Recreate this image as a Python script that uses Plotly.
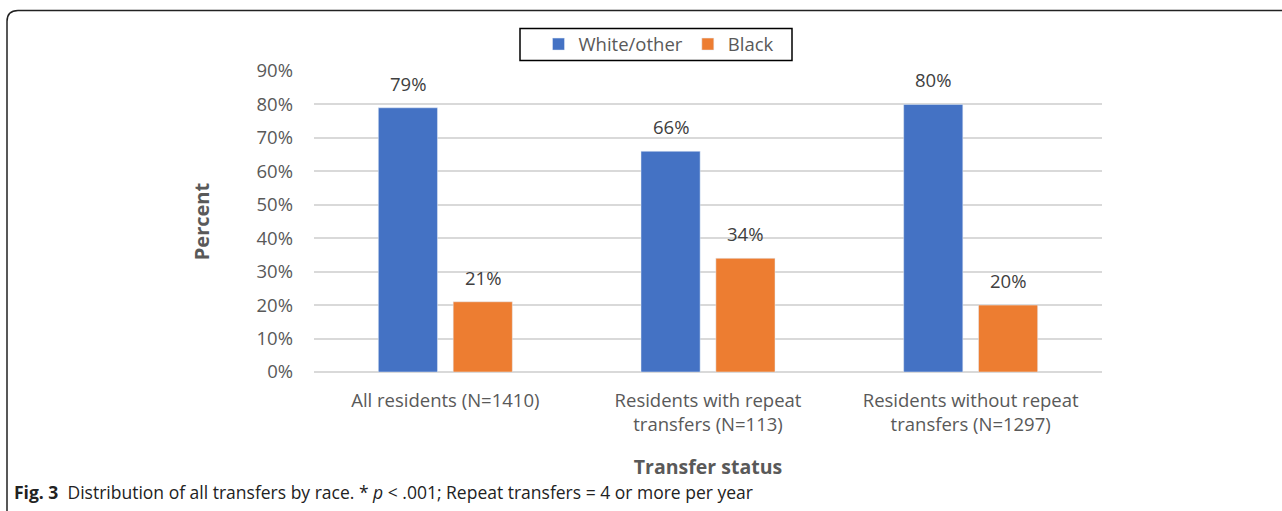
import plotly.graph_objects as go

categories = ["All residents (N=1410)", "Residents with repeat<br>transfers (N=113)", "Residents without repeat<br>transfers (N=1297)"]
white_other = [79, 66, 80]
black = [21, 34, 20]
tick_vals = [0, 10, 20, 30, 40, 50, 60, 70, 80, 90]
tick_text = [f"{v}%" for v in tick_vals]

W, H = 1282, 511
L, R, T, B = 314, 1102, 70.5, 372
BARGAP = 0.43
GROUPGAP = 0.21

def px(x):
    return (x - L) / (R - L)

def py(y):
    return (B - y) / (B - T)

FONT = "Open Sans"
GRAY = "#595959"
FS = 18.5

fig = go.Figure()
fig.add_trace(go.Bar(name="White/other", x=categories, y=white_other, marker_color="#4472C4"))
fig.add_trace(go.Bar(name="Black", x=categories, y=black, marker_color="#ED7D31"))

# data labels above bars
cat_w = (R - L) / len(categories)
slot = (1 - BARGAP) * cat_w / 2
for vals, sh in ((white_other, -slot / 2), (black, slot / 2)):
    for c, v in zip(categories, vals):
        fig.add_annotation(x=c, y=v, xref="x", yref="y", text=f"{v}%", showarrow=False,
                           xshift=sh, yshift=10, yanchor="bottom",
                           font=dict(size=FS, color="#404040", family=FONT))

fig.update_layout(
    width=W, height=H,
    margin=dict(l=L, r=W - R, t=T, b=H - B),
    paper_bgcolor="white", plot_bgcolor="white",
    barmode="group", bargap=BARGAP, bargroupgap=GROUPGAP,
    font=dict(family=FONT, size=FS, color=GRAY),
    showlegend=True,
    legend=dict(orientation="h", x=px(659), y=py(44), xanchor="center", yanchor="middle",
                borderwidth=0, bgcolor="rgba(0,0,0,0)", font=dict(size=FS, color=GRAY),
                traceorder="normal"),
    xaxis=dict(showgrid=False, showline=False, ticks="", tickfont=dict(size=FS, color=GRAY),
               ticklabelstandoff=15,
               title=dict(text="<b>Transfer status</b>", font=dict(size=19.5, color=GRAY), standoff=25)),
    yaxis=dict(range=[0, 90], tickvals=tick_vals, ticktext=tick_text, showgrid=True,
               gridcolor="#d9d9d9", gridwidth=1.5, zeroline=True, zerolinecolor="#d9d9d9", zerolinewidth=1.5,
               tickfont=dict(size=FS, color=GRAY), ticklabelstandoff=20,
               title=dict(text="<b>Percent</b>", font=dict(size=20, color=GRAY), standoff=41)),
)

# legend box
fig.add_shape(type="rect", xref="paper", yref="paper", x0=px(520), x1=px(792), y0=py(60), y1=py(28),
              line=dict(color="black", width=1.5), fillcolor="rgba(0,0,0,0)", layer="above")

# frame with rounded top-left corner
path = (f"M {px(7)},{py(520)} L {px(7)},{py(21)} Q {px(7)},{py(10)} {px(18)},{py(10)} L {px(1290)},{py(10)}")
fig.add_shape(type="path", path=path, xref="paper", yref="paper",
              line=dict(color="#222222", width=1.5), layer="above")

fig.add_annotation(
    text="<b>Fig. 3</b>  Distribution of all transfers by race. * <i>p</i> < .001; Repeat transfers = 4 or more per year",
    x=px(12), y=py(492), xref="paper", yref="paper", xanchor="left", yanchor="middle",
    showarrow=False, font=dict(family=FONT, size=17.5, color="#222222"))

fig.write_html("out.html", config={"displayModeBar": False},
               post_script="document.body.style.margin='0';document.body.style.overflow='hidden';")
